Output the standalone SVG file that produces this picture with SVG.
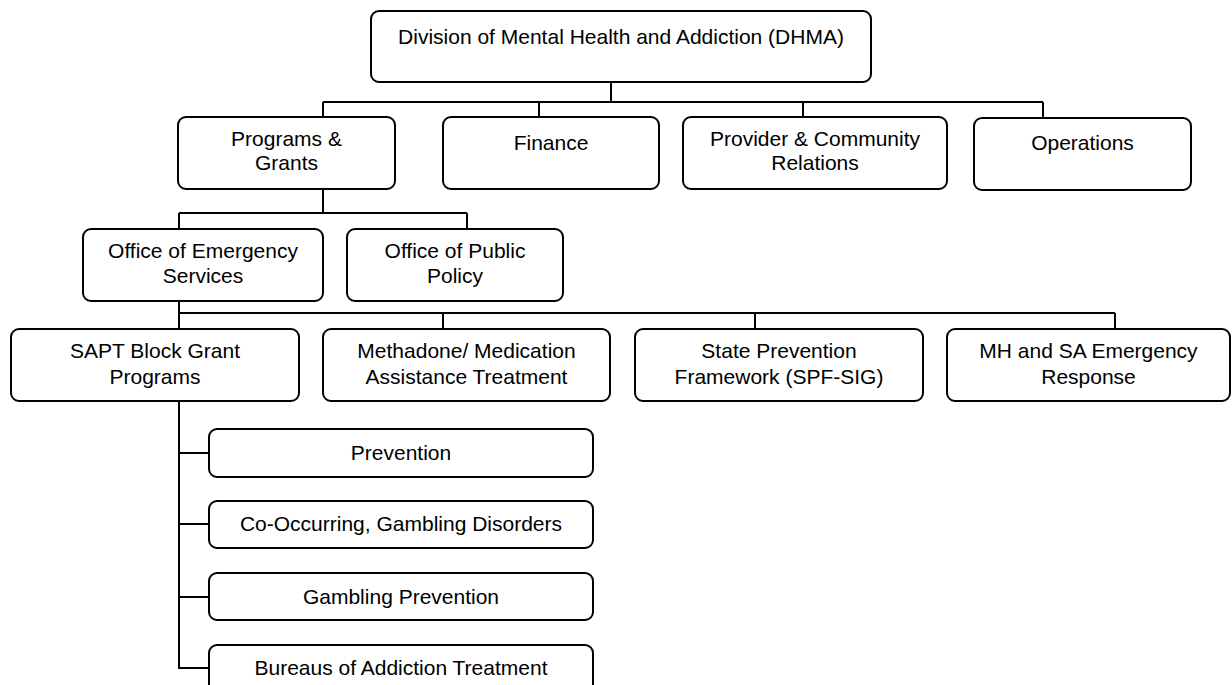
<svg xmlns="http://www.w3.org/2000/svg" width="1232" height="685" viewBox="0 0 1232 685">
<style>
.box{fill:#fff;stroke:#000;stroke-width:2}
.t{font-family:"Liberation Sans",Arial,sans-serif;font-size:21px;fill:#000;text-anchor:middle}
.c{fill:none;stroke:#000;stroke-width:2}
</style>
<rect width="1232" height="685" fill="#fff"/>
<g id="connectors" class="c">
<path d="M611,82V102M323,102H1043M323,102V117M539,102V117M803,102V117M1043,102V118"/>
<path d="M323,189V213M179,213H467M179,213V229M467,213V229"/>
<path d="M179,301V313M179,313H1115M179,313V329M443,313V329M755,313V329M1115,313V329"/>
<path d="M179,401V668H209M179,453H209M179,524H209M179,597H209"/>
</g>
<g id="dhma"><rect class="box" x="371" y="11" width="500" height="71" rx="8"/><text class="t" x="621" y="44">Division of Mental Health and Addiction (DHMA)</text></g>
<g id="programs"><rect class="box" x="178" y="117" width="217" height="72" rx="8"/><text class="t" x="286.5" y="146">Programs &amp;</text><text class="t" x="286.5" y="170">Grants</text></g>
<g id="finance"><rect class="box" x="443" y="117" width="216" height="72" rx="8"/><text class="t" x="551" y="150">Finance</text></g>
<g id="provider"><rect class="box" x="683" y="117" width="264" height="72" rx="8"/><text class="t" x="815" y="146">Provider &amp; Community</text><text class="t" x="815" y="170">Relations</text></g>
<g id="operations"><rect class="box" x="974" y="118" width="217" height="72" rx="8"/><text class="t" x="1082.5" y="150">Operations</text></g>
<g id="oes"><rect class="box" x="83" y="229" width="240" height="72" rx="8"/><text class="t" x="203" y="258">Office of Emergency</text><text class="t" x="203" y="283">Services</text></g>
<g id="opp"><rect class="box" x="347" y="229" width="216" height="72" rx="8"/><text class="t" x="455" y="258">Office of Public</text><text class="t" x="455" y="283">Policy</text></g>
<g id="sapt"><rect class="box" x="11" y="329" width="288" height="72" rx="8"/><text class="t" x="155" y="358">SAPT Block Grant</text><text class="t" x="155" y="384">Programs</text></g>
<g id="methadone"><rect class="box" x="323" y="329" width="287" height="72" rx="8"/><text class="t" x="466.5" y="358">Methadone/ Medication</text><text class="t" x="466.5" y="384">Assistance Treatment</text></g>
<g id="spf"><rect class="box" x="635" y="329" width="288" height="72" rx="8"/><text class="t" x="779" y="358">State Prevention</text><text class="t" x="779" y="384">Framework (SPF-SIG)</text></g>
<g id="mhsa"><rect class="box" x="947" y="329" width="283" height="72" rx="8"/><text class="t" x="1088.5" y="358">MH and SA Emergency</text><text class="t" x="1088.5" y="384">Response</text></g>
<g id="prevention"><rect class="box" x="209" y="429" width="384" height="48" rx="8"/><text class="t" x="401" y="460">Prevention</text></g>
<g id="cooccurring"><rect class="box" x="209" y="501" width="384" height="47" rx="8"/><text class="t" x="401" y="531">Co-Occurring, Gambling Disorders</text></g>
<g id="gambling"><rect class="box" x="209" y="573" width="384" height="47" rx="8"/><text class="t" x="401" y="604">Gambling Prevention</text></g>
<g id="bureaus"><rect class="box" x="209" y="645" width="384" height="48" rx="8"/><text class="t" x="401" y="675">Bureaus of Addiction Treatment</text></g>
</svg>
